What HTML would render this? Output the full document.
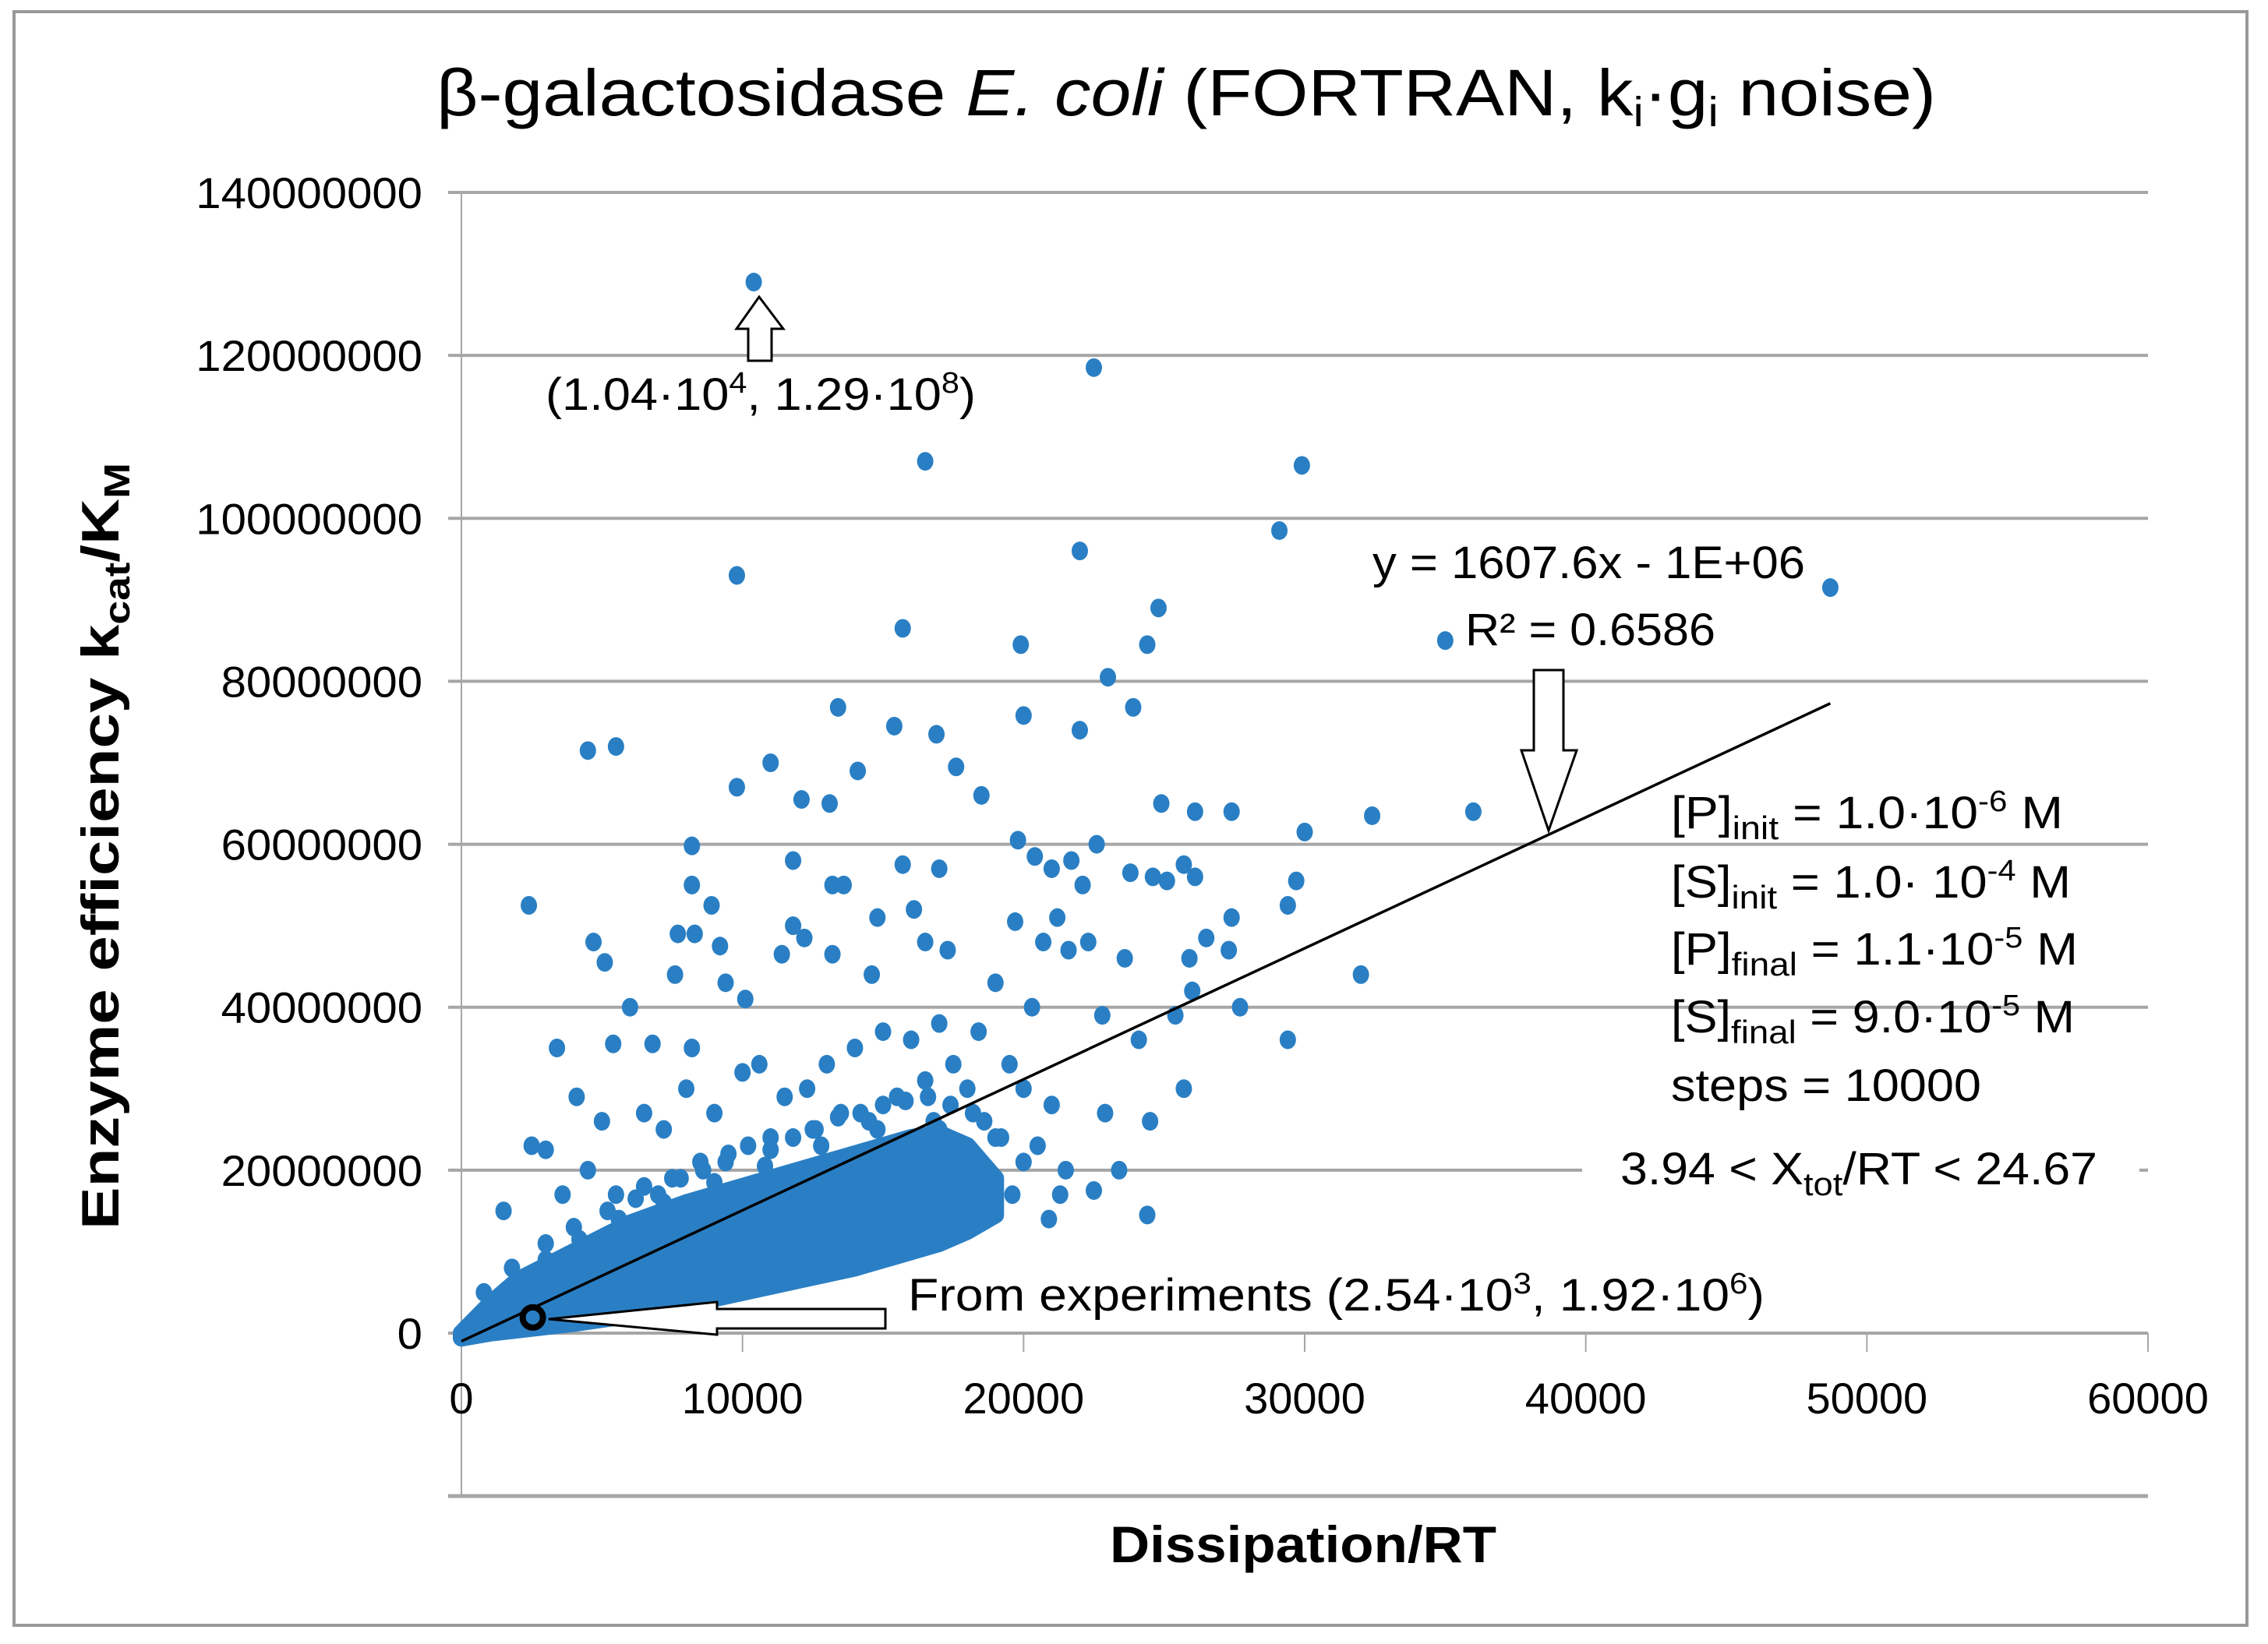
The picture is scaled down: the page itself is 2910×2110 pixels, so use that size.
<!DOCTYPE html>
<html><head><meta charset="utf-8"><style>
html,body{margin:0;padding:0;background:#fff}
svg{display:block;font-family:"Liberation Sans",sans-serif}
</style></head><body>
<svg id="chart" width="2910" height="2110" viewBox="0 0 2910 2110" xmlns="http://www.w3.org/2000/svg">
<rect x="18" y="15" width="2865" height="2071" fill="#fff" stroke="#999" stroke-width="4"/>
<g id="grid"></g>
<g id="ticks"></g>
<g id="band"></g>
<g id="pts"></g>
<g id="trend"></g>
<text x="1522" y="148" font-size="84" text-anchor="middle" textLength="1924" lengthAdjust="spacingAndGlyphs">β-galactosidase <tspan font-style="italic">E. coli</tspan> (FORTRAN, k<tspan font-size="54" dy="14">i</tspan><tspan dy="-14">·g</tspan><tspan font-size="54" dy="14">i</tspan><tspan dy="-14"> noise)</tspan></text>
<text x="1672" y="2005" font-size="66" font-weight="bold" text-anchor="middle" textLength="496" lengthAdjust="spacingAndGlyphs">Dissipation/RT</text>
<text transform="translate(152,1086) rotate(-90)" font-size="68" font-weight="bold" text-anchor="middle" textLength="984" lengthAdjust="spacingAndGlyphs">Enzyme efficiency k<tspan font-size="46" dy="14">cat</tspan><tspan dy="-14">/K</tspan><tspan font-size="46" dy="14">M</tspan></text>
<g id="annot">
<path d="M960,463 L990,463 L990,422 L1005,422 L974,381 L945,422 L960,422 Z" fill="#fff" stroke="#000" stroke-width="3"/>
<text x="700" y="526" font-size="58" textLength="552" lengthAdjust="spacingAndGlyphs">(1.04·10<tspan font-size="38" dy="-22">4</tspan><tspan dy="22">, 1.29·10</tspan><tspan font-size="38" dy="-22">8</tspan><tspan dy="22">)</tspan></text>
<path d="M1968,860 L2006,860 L2006,963 L2023,963 L1987,1066 L1952,963 L1968,963 Z" fill="#fff" stroke="#000" stroke-width="3"/>
<text x="1761" y="742" font-size="58" textLength="555" lengthAdjust="spacingAndGlyphs">y = 1607.6x - 1E+06</text>
<text x="1880" y="828" font-size="58" textLength="321" lengthAdjust="spacingAndGlyphs">R² = 0.6586</text>
<g font-size="58">
<text x="2144" y="1063" textLength="503" lengthAdjust="spacingAndGlyphs">[P]<tspan font-size="42" dy="14">init</tspan><tspan dy="-14"> = 1.0·10</tspan><tspan font-size="38" dy="-22">-6</tspan><tspan dy="22"> M</tspan></text>
<text x="2144" y="1152" textLength="513" lengthAdjust="spacingAndGlyphs">[S]<tspan font-size="42" dy="14">init</tspan><tspan dy="-14"> = 1.0· 10</tspan><tspan font-size="38" dy="-22">-4</tspan><tspan dy="22"> M</tspan></text>
<text x="2144" y="1238" textLength="522" lengthAdjust="spacingAndGlyphs">[P]<tspan font-size="42" dy="14">final</tspan><tspan dy="-14"> = 1.1·10</tspan><tspan font-size="38" dy="-22">-5</tspan><tspan dy="22"> M</tspan></text>
<text x="2144" y="1325" textLength="518" lengthAdjust="spacingAndGlyphs">[S]<tspan font-size="42" dy="14">final</tspan><tspan dy="-14"> = 9.0·10</tspan><tspan font-size="38" dy="-22">-5</tspan><tspan dy="22"> M</tspan></text>
<text x="2144" y="1413" textLength="398" lengthAdjust="spacingAndGlyphs">steps = 10000</text>
</g>
<rect x="2030" y="1460" width="715" height="95" fill="#fff"/>
<text x="2079" y="1520" font-size="58" textLength="612" lengthAdjust="spacingAndGlyphs">3.94 &lt; X<tspan font-size="42" dy="14">tot</tspan><tspan dy="-14">/RT &lt; 24.67</tspan></text>
<path d="M1136,1680 L1136,1705 L920,1705 L920,1713 L704,1693 L920,1671 L920,1680 Z" fill="#fff" stroke="#000" stroke-width="3"/>
<text x="1165" y="1682" font-size="58" textLength="1099" lengthAdjust="spacingAndGlyphs">From experiments  (2.54·10<tspan font-size="38" dy="-22">3</tspan><tspan dy="22">, 1.92·10</tspan><tspan font-size="38" dy="-22">6</tspan><tspan dy="22">)</tspan></text>
</g>
<g id="expmark"></g>
</svg>
<script>
const xTicks = [0,10000,20000,30000,40000,50000,60000];
const yTicks = [0,20000000,40000000,60000000,80000000,100000000,120000000,140000000];
const yTickLabels = ["0","20000000","40000000","60000000","80000000","100000000","120000000","140000000"];
const trendSlope = 1607.6;
const trendIntercept = -1000000;
const trendRange = [0,48700];
const expPoint = [2540,1920000];
const bandX = [0,1000,2000,4000,6000,8000,10000,12000,14000,16000,17000,18000,19000];
const bandLow = [-600000,0,400000,1200000,2200000,3500000,5000000,6500000,8000000,10000000,11000000,12500000,14500000];
const bandHigh = [0,3500000,6500000,10000000,13500000,16000000,18000000,20000000,22000000,24000000,24500000,23000000,19000000];
const ptsX = [10400,22500,16500,29900,9800,22000,29100,48700,35000,15700,19900,24800,24400,23000,23900,13400,20000,15400,16900,22000,4500,5500,11000,9800,14100,17600,18500,12100,13100,24900,26100,27400,32400,36000,30000,8200,11800,15700,17000,19800,20400,21000,21700,22100,22600,23800,24600,25100,25700,26100,2400,8200,8900,13200,13600,14800,16100,21200,27400,29400,29700,32000,29400,25700,27700,4700,5100,6000,7700,8300,11800,12200,16500,17300,19700,20700,21600,22300,23600,25900,26500,27300,7600,9400,14600,9200,10100,11400,13200,3400,5400,6800,8200,4100,2500,3000,1500,18400,19000,20300,22800,24100,25400,26000,22900,24500,21500,20900,22500,23400,21300,24400,6500,7200,8000,9000,10000,10600,11500,12300,13000,14000,15000,16000,17000,17500,18000,16500,15500,14500,13500,12500,11000,9500,8500,7500,6500,5500,4500,5000,3600,19500,20000,21000,19000,18000,17000,20500,15000,800,1800,3000,1200,2200,4000,5200,6200,7000,7800,8600,9400,10200,11000,11800,12600,13400,14200,15000,15800,16600,17400,18200,19200,20000,19600,18800,3000,4200,5600,7200,9000,10800,12800,14800,16800,18600];
const ptsY = [129e6,118.5e6,107e6,106.5e6,93e6,96e6,98.5e6,91.5e6,85e6,86.5e6,84.5e6,89e6,84.5e6,80.5e6,76.8e6,76.8e6,75.8e6,74.5e6,73.5e6,74e6,71.5e6,72e6,70e6,67e6,69e6,69.5e6,66e6,65.5e6,65e6,65e6,64e6,64e6,63.5e6,64e6,61.5e6,59.8e6,58e6,57.5e6,57e6,60.5e6,58.5e6,57e6,58e6,55e6,60e6,56.5e6,56e6,55.5e6,57.5e6,56e6,52.5e6,55e6,52.5e6,55e6,55e6,51e6,52e6,51e6,51e6,52.5e6,55.5e6,44e6,36e6,30e6,40e6,48e6,45.5e6,40e6,49e6,49e6,50e6,48.5e6,48e6,47e6,50.5e6,48e6,47e6,48e6,46e6,46e6,48.5e6,47e6,44e6,43e6,44e6,47.5e6,41e6,46.5e6,46.5e6,35e6,35.5e6,35.5e6,35e6,29e6,23e6,22.5e6,15e6,37e6,43e6,40e6,39e6,36e6,39e6,42e6,27e6,26e6,20e6,14e6,17.5e6,20e6,17e6,14.5e6,27e6,25e6,30e6,27e6,32e6,33e6,29e6,30e6,33e6,35e6,37e6,36e6,38e6,33e6,30e6,31e6,29e6,26e6,27e6,25e6,24e6,22e6,21e6,19e6,18e6,17e6,20e6,26e6,17e6,33e6,30e6,28e6,24e6,22e6,25e6,23e6,22e6,5e6,8e6,11e6,3e6,6e6,13e6,15e6,16.5e6,17e6,19e6,20e6,21e6,23e6,22.5e6,24e6,25e6,26.5e6,27e6,28e6,28.5e6,29e6,28e6,27e6,24e6,21e6,17e6,15e6,9e6,11.5e6,14e6,16e6,18.5e6,20.5e6,23e6,25e6,26e6,26e6];

const X0=592, X1=2756, Y0=1711, YPX=1464/140e6;
function sx(v){return X0+(v-0)*(X1-X0)/60000;}
function sy(v){return Y0-v*YPX;}
const NS="http://www.w3.org/2000/svg";
function mk(tag,attrs,parent){const e=document.createElementNS(NS,tag);for(const k in attrs)e.setAttribute(k,attrs[k]);parent.appendChild(e);return e;}

const grid=document.getElementById('grid');
yTicks.forEach((v,i)=>{
  const l=mk('line',{x1:575,x2:X1,y1:sy(v),y2:sy(v),stroke:'#a6a6a6','stroke-width':4},grid);
  
  
  const t=mk('text',{x:542,y:sy(v)+20,'font-size':56,'text-anchor':'end',textLength:yTickLabels[i].length*32.3,lengthAdjust:'spacingAndGlyphs'},grid);
  t.textContent=yTickLabels[i];
  
  
});
const bl=mk('line',{x1:575,x2:X1,y1:sy(-20000000),y2:sy(-20000000),stroke:'#a6a6a6','stroke-width':5},grid);


const ya=mk('line',{x1:X0,x2:X0,y1:sy(140e6),y2:sy(-20000000),stroke:'#a6a6a6','stroke-width':2},grid);


const ticks=document.getElementById('ticks');
xTicks.forEach(v=>{
  const l=mk('line',{x1:sx(v),x2:sx(v),y1:Y0,y2:Y0+24,stroke:'#a6a6a6','stroke-width':2},ticks);
  
  
  const t=mk('text',{x:sx(v),y:1814,'font-size':56,'text-anchor':'middle'},ticks);
  t.textContent=String(v);
  
  
});

const band=document.getElementById('band');
let d='';
bandX.forEach((v,i)=>{d+=(i?'L':'M')+sx(v)+','+sy(bandHigh[i]);});
for(let i=bandX.length-1;i>=0;i--){d+='L'+sx(bandX[i])+','+sy(bandLow[i]);}
const bp=mk('path',{d:d+'Z',fill:'#2a7fc4',stroke:'#2a7fc4','stroke-width':22,'stroke-linejoin':'round'},band);



const pts=document.getElementById('pts');
ptsX.forEach((v,i)=>{
  const c=mk('ellipse',{cx:sx(v),cy:sy(ptsY[i]),rx:10.5,ry:12,fill:'#2a7fc4'},pts);
  
  
});

const tr=document.getElementById('trend');
const tl=mk('line',{x1:sx(trendRange[0]),y1:sy(trendSlope*trendRange[0]+trendIntercept),x2:sx(trendRange[1]),y2:sy(trendSlope*trendRange[1]+trendIntercept),stroke:'#000','stroke-width':3.5},tr);



const em=document.getElementById('expmark');
const ec=mk('circle',{cx:sx(expPoint[0]),cy:sy(expPoint[1]),r:13,fill:'none',stroke:'#000','stroke-width':8},em);


</script>
</body></html>
